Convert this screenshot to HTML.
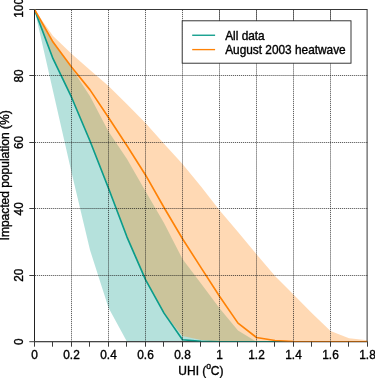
<!DOCTYPE html>
<html><head><meta charset="utf-8"><title>UHI impacted population</title>
<style>html,body{margin:0;padding:0;background:#fff}body{width:375px;height:378px;overflow:hidden}</style></head>
<body>
<svg width="375" height="378" viewBox="0 0 375 378" style="display:block;font-family:'Liberation Sans', Arial, Helvetica, sans-serif">
<style>text{stroke:#000;stroke-width:0.36px;paint-order:stroke fill}</style>
<rect width="375" height="378" fill="#fff"/>
<polygon points="34.5,9.5 53.0,40.73 71.5,67.97 90.0,96.2 108.5,131.42 127.0,158.99 145.5,191.21 164.0,222.94 182.5,258.98 201.0,283.56 219.5,308.15 238.0,330.41 256.5,341.7 275.0,341.7 293.5,341.7 312.0,341.7 330.5,341.7 349.0,341.7 367.5,341.7 367.5,341.7 349.0,341.7 330.5,341.7 312.0,341.7 293.5,341.7 275.0,341.7 256.5,341.7 238.0,341.7 219.5,341.7 201.0,341.7 182.5,341.7 164.0,341.7 145.5,341.7 127.0,341.7 108.5,307.82 90.0,250.01 71.5,172.28 53.0,90.89 34.5,9.5" fill="#0b9c8a" fill-opacity="0.3"/>
<polygon points="34.5,9.5 53.0,36.08 71.5,53.68 90.0,69.96 108.5,85.91 127.0,104.18 145.5,123.11 164.0,143.71 182.5,163.97 201.0,186.56 219.5,210.15 238.0,232.07 256.5,254.33 275.0,275.92 293.5,294.53 312.0,313.13 330.5,331.07 349.0,338.21 367.5,340.37 367.5,341.7 349.0,341.7 330.5,341.7 312.0,341.7 293.5,341.7 275.0,341.7 256.5,341.7 238.0,341.7 219.5,341.7 201.0,340.04 182.5,336.05 164.0,313.13 145.5,279.58 127.0,237.06 108.5,188.22 90.0,141.05 71.5,97.2 53.0,58.67 34.5,9.5" fill="#ff8206" fill-opacity="0.3"/>
<path d="M34.5 9.5H367.5" fill="none" stroke="#383838" stroke-width="1"/>
<path d="M367.1 9.5V341.7" fill="none" stroke="#3a3a3a" stroke-width="1"/>
<path d="M34.5 341.7H367.5" fill="none" stroke="#3c3c3c" stroke-width="1"/>
<clipPath id="pc"><rect x="34.5" y="9.5" width="333.0" height="332.5"/></clipPath>
<g clip-path="url(#pc)">
<polyline points="34.5,9.5 53.0,58.67 71.5,97.2 90.0,141.05 108.5,188.22 127.0,237.06 145.5,279.58 164.0,313.13 182.5,339.71 201.0,341.37 219.5,341.7 238.0,341.7 256.5,341.7 275.0,341.7 293.5,341.7 312.0,341.7 330.5,341.7 349.0,341.7 367.5,341.7" fill="none" stroke="#0b9c8a" stroke-width="1.65" stroke-linejoin="round"/>
<polyline points="34.5,9.5 53.0,42.06 71.5,66.97 90.0,89.89 108.5,117.46 127.0,145.7 145.5,174.94 164.0,207.49 182.5,238.72 201.0,267.62 219.5,296.19 238.0,323.1 256.5,337.51 275.0,340.47 293.5,341.53 312.0,341.7 330.5,341.7 349.0,341.7 367.5,341.7" fill="none" stroke="#ff8206" stroke-width="1.65" stroke-linejoin="round"/>
</g>
<path d="M71.5 10V341.7M108.5 10V341.7M145.5 10V341.7M182.5 10V341.7M219.5 10V341.7M256.5 10V341.7M293.5 10V341.7M330.5 10V341.7M35 275.5H367.5M35 208.5H367.5M35 142.5H367.5M35 75.5H367.5" fill="none" stroke="#000" stroke-opacity="0.12" stroke-width="0.8"/>
<path d="M71.5 10V341.7M108.5 10V341.7M145.5 10V341.7M182.5 10V341.7M219.5 10V341.7M256.5 10V341.7M293.5 10V341.7M330.5 10V341.7M35 275.5H367.5M35 208.5H367.5M35 142.5H367.5M35 75.5H367.5" fill="none" stroke="#1a1a1a" stroke-opacity="0.85" stroke-width="0.8" stroke-dasharray="1 1.02"/>
<path d="M34.5 9.5V341.7" fill="none" stroke="#222" stroke-width="1"/>
<path d="M34.5 341.7H367.5" fill="none" stroke="#222" stroke-opacity="0.5" stroke-width="1"/>
<path d="M34.5 341.7v5M52.5 341.7v5M71.5 341.7v5M89.5 341.7v5M108.5 341.7v5M126.5 341.7v5M145.5 341.7v5M163.5 341.7v5M182.5 341.7v5M200.5 341.7v5M219.5 341.7v5M237.5 341.7v5M256.5 341.7v5M274.5 341.7v5M293.5 341.7v5M311.5 341.7v5M330.5 341.7v5M348.5 341.7v5M367.5 341.7v5M34.5 341.7h-5.2M34.5 275.5h-5.2M34.5 208.5h-5.2M34.5 142.5h-5.2M34.5 75.5h-5.2M34.5 9.5h-5.2" fill="none" stroke="#3c3c3c" stroke-width="1"/>
<g font-size="11.85" fill="#000" text-anchor="middle">
<text x="34.5" y="358.8">0</text>
<text x="71.5" y="358.8">0.2</text>
<text x="108.5" y="358.8">0.4</text>
<text x="145.5" y="358.8">0.6</text>
<text x="182.5" y="358.8">0.8</text>
<text x="219.5" y="358.8">1</text>
<text x="256.5" y="358.8">1.2</text>
<text x="293.5" y="358.8">1.4</text>
<text x="330.5" y="358.8">1.6</text>
<text x="367.5" y="358.8">1.8</text>
<text transform="translate(23 341.7) rotate(-90)">0</text>
<text transform="translate(23 275.26) rotate(-90)">20</text>
<text transform="translate(23 208.82) rotate(-90)">40</text>
<text transform="translate(23 142.38) rotate(-90)">60</text>
<text transform="translate(23 75.94) rotate(-90)">80</text>
<text transform="translate(23 7.9) rotate(-90)">100</text>
</g>
<text transform="translate(8.7 175.4) rotate(-90)" font-size="12" text-anchor="middle">Impacted population (%)</text>
<text x="178.3" y="375.2" font-size="12">UHI (<tspan font-size="8.6" dy="-5.8">o</tspan><tspan dy="5.8" dx="-0.3">C)</tspan></text>
<path d="M219.5 10V21M256.5 10V21M293.5 10V21M330.5 10V21" fill="none" stroke="#555" stroke-width="0.8"/>
<rect x="182.2" y="20.8" width="168.8" height="42.4" fill="#fff" stroke="#222" stroke-width="0.9"/>
<path d="M192.2 35.25H215.1" stroke="#0b9c8a" stroke-width="1.35"/>
<path d="M192.2 49.6H215.1" stroke="#ff8206" stroke-width="1.35"/>
<text x="225.2" y="39.7" font-size="11.85">All data</text>
<text x="225.2" y="53.75" font-size="11.85">August 2003 heatwave</text>
</svg>
</body></html>
